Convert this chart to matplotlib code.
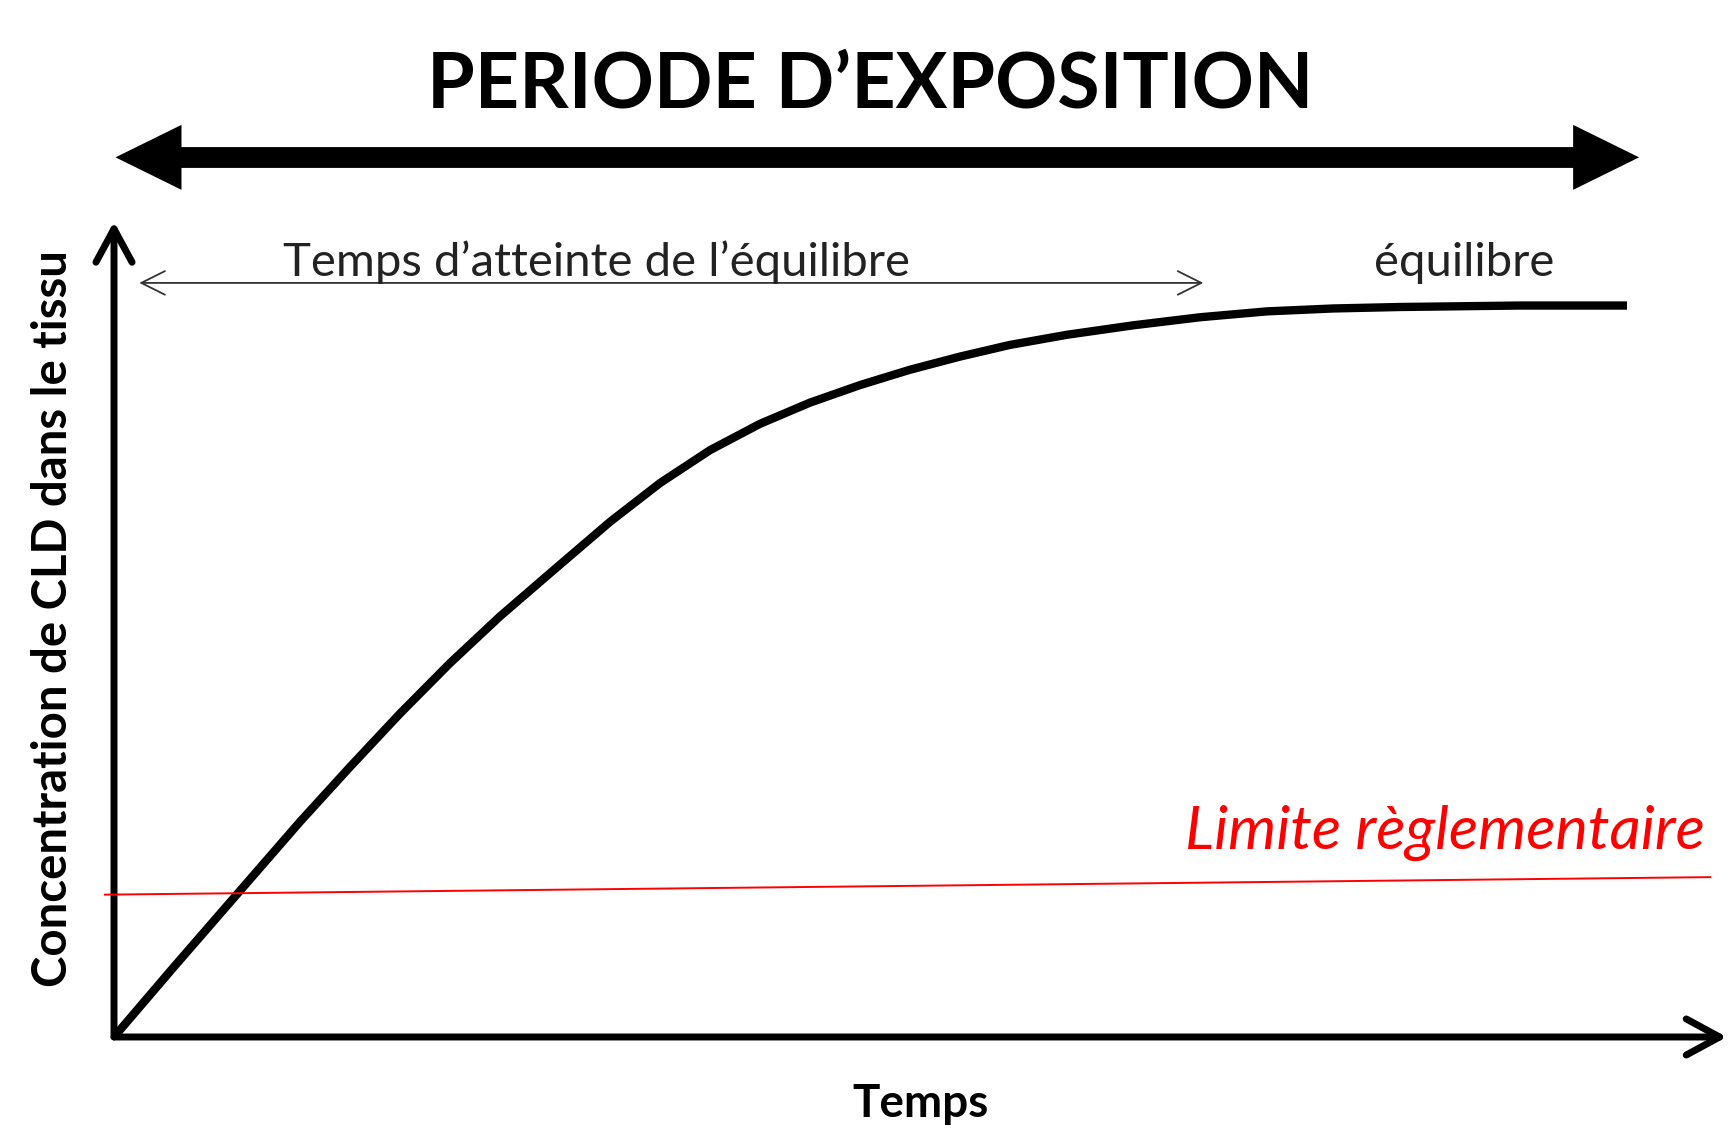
import matplotlib
matplotlib.use("Agg")
import matplotlib.pyplot as plt
from matplotlib.patches import FancyArrowPatch, ArrowStyle

# tissue concentration curve (time and concentration in % of the plateau)
time = [0, 4, 8.4, 12.3, 15.6, 18.9, 22.2, 25.5, 28.8, 32.8, 36.1, 39.4, 42.7, 46.0,
        49.3, 52.6, 55.9, 59.2, 63.0, 67.4, 71.8, 76.2, 80.6, 85.0, 92.9, 100]
conc = [0, 9.7, 20.2, 29.5, 37.0, 44.3, 51.2, 57.6, 63.5, 70.6, 75.9, 80.4, 84.0, 86.9,
        89.3, 91.4, 93.2, 94.8, 96.2, 97.5, 98.6, 99.4, 99.8, 100, 100.2, 100.2]

# regulatory limit (slightly slanted red line)
limit_x = [-0.6, 105.5]
limit_y = [19.5, 21.9]

title = "PERIODE D\u2019EXPOSITION"
reach_label = "Temps d\u2019atteinte de l\u2019\u00e9quilibre"
eq_label = "\u00e9quilibre"
limit_label = "Limite r\u00e8glementaire"
xlabel = "Temps"
ylabel = "Concentration de CLD dans le tissu"

# figure is 1729 x 1134 px, axis origin sits at pixel (114, 1037)
fig = plt.figure(figsize=(17.29, 11.34), dpi=100)
ax = fig.add_axes([0, 0, 1, 1])
px_x = 15.13   # pixels per time unit
px_y = 7.30    # pixels per concentration unit
ax.set_xlim(-114 / px_x, (1729 - 114) / px_x)
ax.set_ylim((1037 - 1134) / px_y, 1037 / px_y)
ax.axis("off")

font = "Lato"

# the curve
ax.plot(time, conc, color="black", lw=6, solid_capstyle="butt", solid_joinstyle="round", zorder=3)

# red limit line
ax.plot(limit_x, limit_y, color="red", lw=1.4, zorder=4)

# axes drawn as arrows
axis_style = ArrowStyle("->", head_length=24, head_width=13)
ax.add_patch(FancyArrowPatch((0, 0), (0, 111.7), arrowstyle=axis_style, mutation_scale=1,
                             lw=5, color="black", shrinkA=0, shrinkB=0, capstyle="round", joinstyle="round"))
ax.add_patch(FancyArrowPatch((0, 0), (106.6, 0), arrowstyle=axis_style, mutation_scale=1,
                             lw=5, color="black", shrinkA=0, shrinkB=0, capstyle="round", joinstyle="round"))

# thin double arrow for time to equilibrium
thin_style = ArrowStyle("<->", head_length=17, head_width=8.5)
ax.add_patch(FancyArrowPatch((1.67, 103.3), (72.0, 103.3), arrowstyle=thin_style, mutation_scale=1,
                             lw=1.3, color="#333333", shrinkA=0, shrinkB=0))

# big exposure period double arrow: thick shaft + two filled heads
left_tip, right_tip, arrow_y = 0.1, 100.8, 120.5
head_len = 4.36
ax.plot([left_tip + head_len - 0.5, right_tip - head_len + 0.5], [arrow_y, arrow_y],
        color="black", lw=15, solid_capstyle="butt")
for tip, sign in ((left_tip, -1), (right_tip, 1)):
    ax.arrow(tip - sign * head_len, arrow_y, sign * head_len, 0, width=0.01, head_width=8.9,
             head_length=head_len, length_includes_head=True, color="black", lw=0)

# texts
ax.text(50.0, 127.3, title, ha="center", va="baseline", fontsize=55.5,
        fontweight="bold", family=font)
ax.text(11.2, 104.3, reach_label, ha="left", va="baseline", fontsize=34,
        family=font, color="#222222")
ax.text(83.3, 104.3, eq_label, ha="left", va="baseline", fontsize=34,
        family=font, color="#222222")
ax.text(53.3, -10.96, xlabel, ha="center", va="baseline", fontsize=33,
        fontweight="bold", family=font)
ax.text(-4.0, 57.3, ylabel, ha="center", va="center", rotation=90, fontsize=34,
        fontweight="bold", family=font)
ax.text(70.8, 25.75, limit_label, ha="left", va="baseline", fontsize=44,
        style="italic", family=font, color="red")

fig.savefig("out.png", dpi=100, facecolor="white")
